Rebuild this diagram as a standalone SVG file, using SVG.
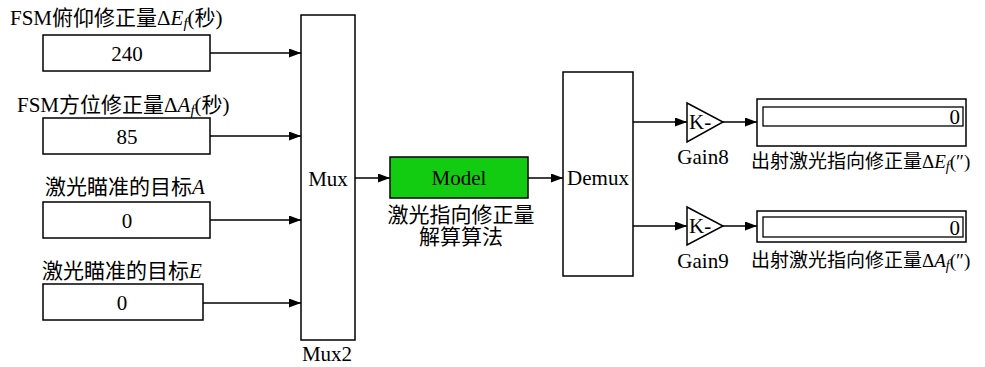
<svg xmlns="http://www.w3.org/2000/svg" width="985" height="367" viewBox="0 0 985 367">
<style>
text{font-family:"Liberation Serif","Noto Sans CJK SC",serif;font-size:21px;fill:#000}
.blk{fill:#fff;stroke:#000;stroke-width:1.5}
.wire{fill:none;stroke:#000;stroke-width:1.3;marker-end:url(#ah)}
.c{text-anchor:middle}
.i{font-style:italic}
.out{font-size:19px}
</style>
<defs>
<marker id="ah" viewBox="0 0 12 9" refX="12" refY="4.5" markerWidth="12" markerHeight="9" markerUnits="userSpaceOnUse" orient="auto">
<path d="M0,0 L12,4.5 L0,9 z" fill="#000"/>
</marker>
</defs>
<rect width="985" height="367" fill="#fff"/>
<g id="const1">
<rect class="blk" x="43" y="35" width="167" height="36"/>
<text class="c" x="127" y="61">240</text>
<text x="10" y="25">FSM俯仰修正量Δ<tspan class="i">E</tspan><tspan class="i" font-size="15" dy="3">f</tspan><tspan dy="-3">(秒)</tspan></text>
</g>
<g id="const2">
<rect class="blk" x="43" y="118" width="167" height="36"/>
<text class="c" x="127" y="144">85</text>
<text x="17" y="112">FSM方位修正量Δ<tspan class="i">A</tspan><tspan class="i" font-size="15" dy="3">f</tspan><tspan dy="-3">(秒)</tspan></text>
</g>
<g id="const3">
<rect class="blk" x="43" y="202" width="167" height="36"/>
<text class="c" x="127" y="228">0</text>
<text x="45" y="194">激光瞄准的目标<tspan class="i">A</tspan></text>
</g>
<g id="const4">
<rect class="blk" x="43" y="284" width="160" height="36"/>
<text class="c" x="122" y="310">0</text>
<text x="42" y="278">激光瞄准的目标<tspan class="i">E</tspan></text>
</g>
<g id="mux">
<rect class="blk" x="301" y="15" width="54" height="325"/>
<text class="c" x="328" y="186">Mux</text>
<text class="c" x="327" y="361">Mux2</text>
</g>
<g id="model">
<rect x="390" y="157" width="138" height="41" fill="#11cc11" stroke="#000" stroke-width="1.5"/>
<text class="c" x="459" y="185">Model</text>
<text class="c" x="461" y="222">激光指向修正量</text>
<text class="c" x="461" y="244">解算算法</text>
</g>
<g id="demux">
<rect class="blk" x="563" y="72" width="70" height="204"/>
<text class="c" x="598" y="185">Demux</text>
</g>
<g id="gain8">
<path class="blk" d="M687,103 L723,122 L687,142 z"/>
<text x="689" y="129" font-size="19">K-</text>
<text class="c" x="703" y="164">Gain8</text>
</g>
<g id="gain9">
<path class="blk" d="M687,207 L723,226 L687,245 z"/>
<text x="689" y="233" font-size="19">K-</text>
<text class="c" x="703" y="268">Gain9</text>
</g>
<g id="disp1">
<rect class="blk" x="757" y="99" width="209" height="47"/>
<rect fill="#fff" stroke="#000" stroke-width="1.3" x="763" y="107" width="200" height="19"/>
<text x="960" y="124" text-anchor="end">0</text>
<text class="out" x="751" y="168">出射激光指向修正量Δ<tspan class="i">E</tspan><tspan class="i" font-size="14" dy="3">f</tspan><tspan dy="-3">(″)</tspan></text>
</g>
<g id="disp2">
<rect class="blk" x="757" y="211" width="209" height="31"/>
<rect fill="#fff" stroke="#000" stroke-width="1.3" x="763" y="217" width="200" height="20"/>
<text x="960" y="235" text-anchor="end">0</text>
<text class="out" x="751" y="267">出射激光指向修正量Δ<tspan class="i">A</tspan><tspan class="i" font-size="14" dy="3">f</tspan><tspan dy="-3">(″)</tspan></text>
</g>
<g id="connectors">
<path class="wire" d="M210,53 H301"/>
<path class="wire" d="M210,136 H301"/>
<path class="wire" d="M210,220 H301"/>
<path class="wire" d="M203,303 H301"/>
<path class="wire" d="M355,178 H390"/>
<path class="wire" d="M528,178 H563"/>
<path class="wire" d="M633,122 H687"/>
<path class="wire" d="M633,226 H687"/>
<path class="wire" d="M723,122 H757"/>
<path class="wire" d="M723,226 H757"/>
</g>
</svg>
